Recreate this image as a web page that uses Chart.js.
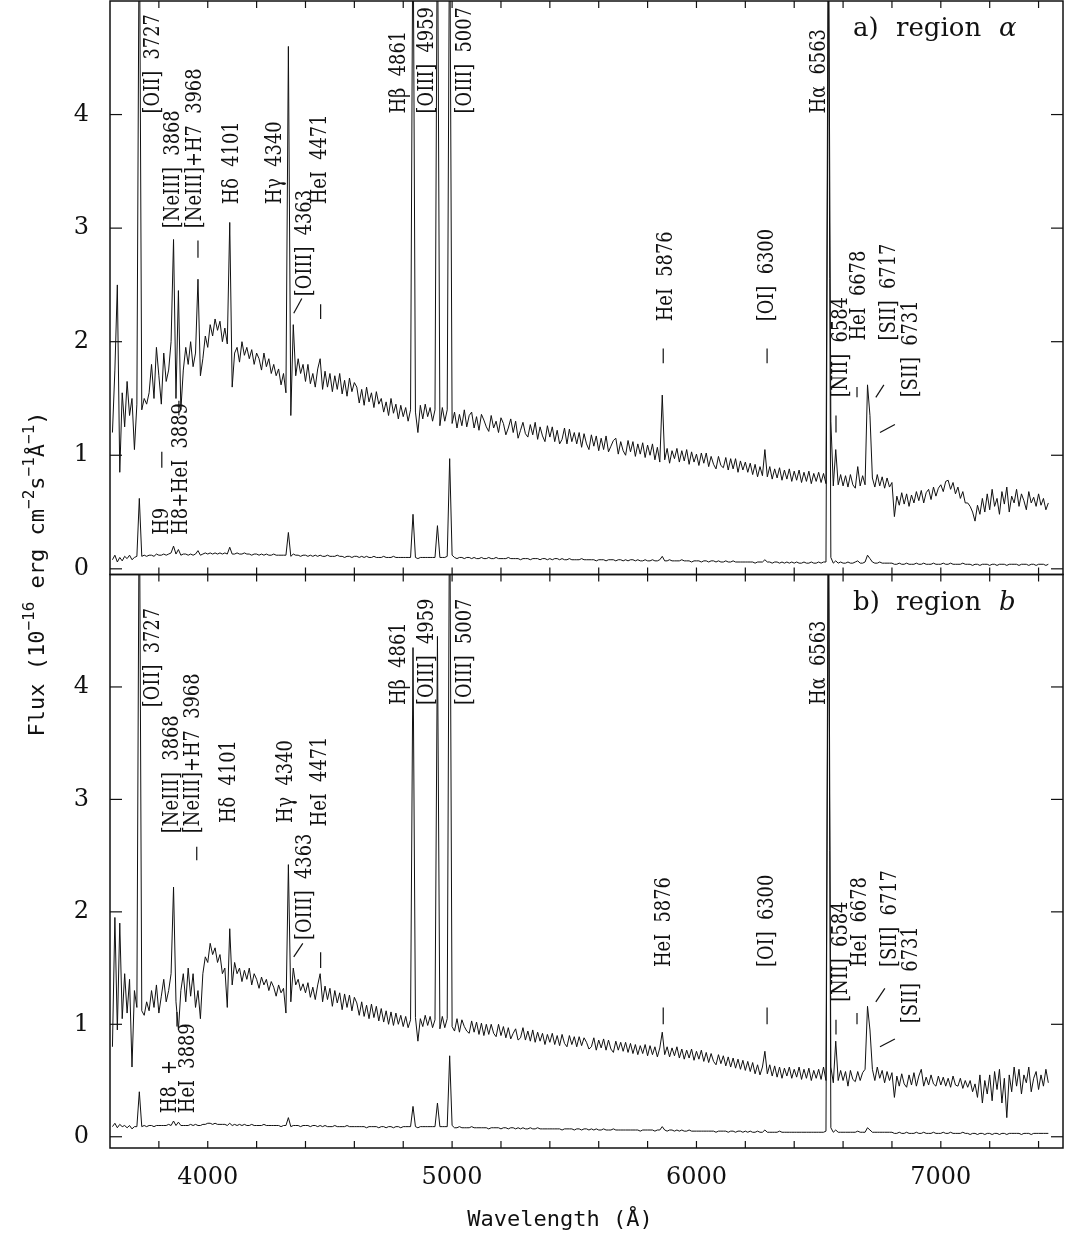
<!DOCTYPE html>
<html>
<head>
<meta charset="utf-8">
<script src="https://cdn.jsdelivr.net/npm/chart.js@4.4.1/dist/chart.umd.min.js"></script>
<style>
body{margin:0;background:#fff}
#wrap{width:1065px;height:1238px}
</style>
</head>
<body>
<div id="wrap"><canvas id="spec" width="1065" height="1238"></canvas></div>
<script>
// sampling grid of the spectra (Angstrom)
const lambdaStart = 3610
const lambdaStep = 10

// region a, bright aperture
const fluxA = [
1.2,1.75,2.5,0.85,1.55,1.25,1.65,1.35,1.5,1.05,
1.45,6.0,1.4,1.5,1.45,1.55,1.8,1.5,1.95,1.7,
1.45,1.9,1.65,1.75,2.0,2.9,1.5,2.45,1.4,1.75,
1.95,1.8,2.0,1.78,1.9,2.55,1.7,1.85,2.05,1.95,
2.15,2.05,2.2,2.1,2.18,2.0,2.12,1.98,3.05,1.6,
1.9,1.95,1.82,2.0,1.88,1.95,1.85,1.93,1.8,1.9,
1.85,1.75,1.9,1.78,1.85,1.72,1.8,1.7,1.76,1.62,
1.72,1.55,4.6,1.35,2.15,1.7,1.85,1.72,1.8,1.65,
1.8,1.63,1.72,1.6,1.76,1.85,1.58,1.74,1.6,1.72,
1.56,1.7,1.58,1.72,1.54,1.66,1.52,1.68,1.56,1.64,
1.6,1.46,1.58,1.44,1.6,1.47,1.55,1.42,1.56,1.45,
1.5,1.38,1.47,1.35,1.5,1.37,1.45,1.32,1.44,1.34,
1.42,1.3,1.4,6.0,1.38,1.2,1.44,1.32,1.45,1.34,
1.42,1.3,1.4,6.0,1.26,1.42,1.3,1.4,6.0,1.28,
1.38,1.24,1.36,1.26,1.4,1.25,1.35,1.38,1.24,1.34,
1.22,1.36,1.31,1.25,1.21,1.35,1.24,1.3,1.2,1.33,
1.28,1.18,1.24,1.32,1.2,1.3,1.15,1.22,1.29,1.19,
1.16,1.27,1.18,1.29,1.14,1.25,1.17,1.12,1.26,1.16,
1.25,1.12,1.22,1.1,1.14,1.24,1.1,1.23,1.12,1.2,
1.1,1.2,1.07,1.19,1.1,1.05,1.18,1.08,1.17,1.04,
1.15,1.05,1.17,1.03,1.08,1.13,1.15,1.01,1.12,1.04,
1.0,1.13,1.03,1.12,0.99,1.1,1.01,1.11,0.98,1.09,
1.0,1.1,0.96,1.07,0.94,1.53,0.96,1.06,0.93,1.04,
0.97,1.06,0.94,1.04,0.95,1.05,0.92,1.03,0.94,1.01,
0.91,1.02,0.93,1.02,0.9,0.99,0.92,0.88,0.99,0.91,
0.89,0.98,0.87,0.97,0.88,0.97,0.85,0.95,0.87,0.94,
0.85,0.93,0.83,0.92,0.81,0.9,0.82,1.05,0.81,0.9,
0.79,0.88,0.8,0.89,0.78,0.87,0.79,0.88,0.77,0.86,
0.78,0.87,0.76,0.85,0.77,0.86,0.75,0.84,0.77,0.85,
0.76,0.84,0.75,6.0,1.3,0.73,1.05,0.74,0.83,0.73,
0.82,0.72,0.83,0.74,0.71,0.9,0.73,0.82,0.74,1.62,
1.35,0.8,0.72,0.83,0.73,0.81,0.71,0.8,0.72,0.76,
0.46,0.64,0.56,0.67,0.57,0.66,0.55,0.65,0.58,0.68,
0.6,0.69,0.58,0.67,0.7,0.61,0.72,0.64,0.71,0.74,
0.68,0.77,0.78,0.7,0.76,0.66,0.72,0.62,0.68,0.58,
0.58,0.55,0.5,0.42,0.56,0.48,0.62,0.5,0.66,0.52,
0.7,0.55,0.62,0.48,0.68,0.57,0.72,0.5,0.64,0.58,
0.7,0.55,0.66,0.6,0.52,0.68,0.58,0.63,0.55,0.66,
0.56,0.62,0.52,0.58
]

// region a, scaled-down spectrum
const fluxA2 = [
0.08,0.12,0.06,0.10,0.07,0.11,0.09,0.12,0.08,0.10,
0.11,0.62,0.11,0.12,0.11,0.12,0.12,0.11,0.13,0.12,
0.12,0.13,0.12,0.13,0.14,0.20,0.13,0.17,0.12,0.13,
0.13,0.12,0.13,0.12,0.13,0.16,0.12,0.13,0.14,0.13,
0.14,0.13,0.14,0.13,0.14,0.13,0.14,0.13,0.19,0.13,
0.13,0.14,0.13,0.13,0.14,0.13,0.13,0.12,0.13,0.13,
0.12,0.13,0.12,0.13,0.12,0.12,0.13,0.12,0.12,0.12,
0.12,0.12,0.32,0.11,0.13,0.12,0.12,0.11,0.12,0.12,
0.11,0.12,0.11,0.12,0.11,0.12,0.11,0.11,0.12,0.11,
0.11,0.11,0.12,0.11,0.11,0.10,0.11,0.11,0.10,0.11,
0.11,0.10,0.11,0.10,0.11,0.10,0.10,0.11,0.10,0.10,
0.10,0.11,0.10,0.10,0.10,0.11,0.10,0.10,0.10,0.10,
0.10,0.10,0.10,0.48,0.10,0.09,0.10,0.10,0.10,0.10,
0.10,0.10,0.10,0.38,0.10,0.10,0.10,0.11,0.97,0.12,
0.10,0.09,0.10,0.10,0.09,0.10,0.10,0.09,0.10,0.09,
0.09,0.10,0.09,0.09,0.10,0.09,0.09,0.10,0.09,0.09,
0.09,0.09,0.10,0.09,0.09,0.09,0.09,0.08,0.09,0.09,
0.09,0.08,0.09,0.09,0.09,0.08,0.09,0.09,0.08,0.09,
0.08,0.09,0.09,0.08,0.09,0.08,0.08,0.09,0.08,0.08,
0.08,0.08,0.09,0.08,0.08,0.08,0.08,0.08,0.07,0.08,
0.08,0.08,0.07,0.08,0.08,0.08,0.07,0.08,0.08,0.07,
0.08,0.07,0.08,0.08,0.07,0.08,0.07,0.07,0.08,0.07,
0.07,0.08,0.07,0.07,0.08,0.11,0.07,0.07,0.08,0.07,
0.07,0.07,0.07,0.08,0.07,0.07,0.07,0.06,0.07,0.07,
0.07,0.06,0.07,0.07,0.06,0.07,0.07,0.06,0.07,0.06,
0.06,0.07,0.06,0.06,0.07,0.06,0.06,0.06,0.06,0.06,
0.06,0.06,0.06,0.05,0.06,0.06,0.06,0.08,0.06,0.06,
0.05,0.06,0.06,0.05,0.06,0.05,0.06,0.05,0.06,0.05,
0.06,0.05,0.05,0.06,0.05,0.05,0.06,0.05,0.05,0.06,
0.05,0.06,0.06,5.50,0.10,0.05,0.07,0.05,0.06,0.05,
0.05,0.06,0.05,0.05,0.06,0.07,0.05,0.05,0.06,0.12,
0.09,0.06,0.05,0.05,0.06,0.05,0.05,0.05,0.05,0.05,
0.04,0.04,0.05,0.04,0.04,0.05,0.04,0.04,0.04,0.05,
0.04,0.04,0.05,0.04,0.04,0.04,0.05,0.04,0.04,0.04,
0.05,0.04,0.04,0.05,0.04,0.04,0.04,0.04,0.05,0.04,
0.04,0.04,0.03,0.04,0.04,0.03,0.04,0.04,0.04,0.03,
0.04,0.04,0.03,0.04,0.04,0.04,0.03,0.04,0.04,0.04,
0.04,0.03,0.04,0.04,0.04,0.03,0.04,0.04,0.03,0.04,
0.04,0.04,0.03,0.04
]

// region b, bright aperture
const fluxB = [
0.8,1.95,0.95,1.9,1.05,1.45,1.1,1.4,0.62,1.3,
1.15,6.0,1.12,1.08,1.2,1.12,1.3,1.15,1.35,1.1,
1.25,1.4,1.2,1.3,1.45,2.22,1.2,0.95,1.3,1.45,
1.2,1.5,1.25,1.45,1.15,1.3,1.05,1.45,1.6,1.55,
1.72,1.62,1.68,1.55,1.62,1.45,1.5,1.15,1.85,1.35,
1.55,1.45,1.5,1.38,1.48,1.4,1.5,1.35,1.45,1.4,
1.32,1.42,1.35,1.4,1.3,1.38,1.33,1.25,1.35,1.28,
1.32,1.1,2.42,1.2,1.5,1.35,1.4,1.3,1.36,1.28,
1.37,1.24,1.33,1.22,1.35,1.45,1.2,1.34,1.22,1.32,
1.16,1.3,1.19,1.28,1.13,1.27,1.15,1.26,1.12,1.24,
1.19,1.08,1.2,1.07,1.17,1.05,1.18,1.06,1.16,1.03,
1.14,1.02,1.12,1.0,1.11,0.99,1.1,1.0,1.08,0.98,
1.07,0.97,1.04,4.35,1.06,0.85,1.05,0.98,1.08,0.99,
1.07,0.97,1.04,4.45,0.96,1.07,0.97,1.05,6.0,0.98,
0.94,1.05,0.93,1.04,0.98,0.94,0.92,1.03,0.93,1.02,
0.91,1.01,0.9,1.0,0.91,1.0,0.92,0.89,1.0,0.9,
0.98,0.88,0.97,0.87,0.92,0.96,0.86,0.88,0.97,0.86,
0.94,0.85,0.95,0.84,0.93,0.85,0.92,0.82,0.91,0.84,
0.92,0.82,0.9,0.81,0.91,0.83,0.8,0.9,0.82,0.89,
0.8,0.89,0.81,0.88,0.84,0.78,0.8,0.88,0.77,0.86,
0.79,0.87,0.77,0.86,0.78,0.75,0.85,0.77,0.84,0.76,
0.84,0.75,0.83,0.74,0.82,0.73,0.81,0.74,0.82,0.72,
0.81,0.73,0.8,0.71,0.79,0.93,0.73,0.8,0.71,0.79,
0.72,0.8,0.7,0.78,0.69,0.77,0.7,0.78,0.68,0.76,
0.69,0.77,0.67,0.75,0.66,0.74,0.67,0.64,0.73,0.65,
0.72,0.63,0.71,0.62,0.7,0.61,0.69,0.6,0.68,0.59,
0.67,0.58,0.66,0.56,0.64,0.55,0.62,0.76,0.56,0.64,
0.54,0.63,0.53,0.62,0.52,0.61,0.54,0.62,0.52,0.6,
0.53,0.62,0.51,0.6,0.52,0.61,0.5,0.59,0.52,0.6,
0.51,0.62,0.5,6.0,0.62,0.48,0.85,0.5,0.59,0.5,
0.58,0.45,0.59,0.51,0.49,0.58,0.5,0.57,0.6,1.16,
0.95,0.6,0.5,0.62,0.52,0.59,0.48,0.58,0.5,0.57,
0.35,0.54,0.45,0.56,0.47,0.44,0.55,0.46,0.57,0.45,
0.54,0.6,0.45,0.53,0.46,0.55,0.47,0.45,0.54,0.46,
0.53,0.45,0.52,0.44,0.54,0.46,0.45,0.52,0.43,0.5,
0.44,0.5,0.4,0.47,0.35,0.55,0.3,0.5,0.38,0.55,
0.32,0.58,0.42,0.6,0.3,0.52,0.17,0.55,0.4,0.62,
0.45,0.6,0.38,0.55,0.48,0.62,0.4,0.52,0.58,0.42,
0.55,0.45,0.6,0.48
]

// region b, scaled-down spectrum
const fluxB2 = [
0.09,0.12,0.08,0.11,0.09,0.10,0.08,0.10,0.07,0.09,
0.09,0.40,0.09,0.10,0.09,0.10,0.10,0.09,0.10,0.10,
0.10,0.10,0.10,0.11,0.10,0.14,0.10,0.13,0.10,0.10,
0.10,0.10,0.11,0.10,0.11,0.10,0.10,0.11,0.11,0.12,
0.12,0.11,0.12,0.11,0.11,0.11,0.11,0.10,0.12,0.10,
0.11,0.10,0.11,0.10,0.11,0.10,0.10,0.11,0.10,0.10,
0.10,0.10,0.11,0.10,0.10,0.10,0.10,0.10,0.10,0.09,
0.10,0.10,0.17,0.09,0.10,0.10,0.10,0.09,0.10,0.10,
0.10,0.09,0.10,0.10,0.09,0.10,0.09,0.10,0.09,0.09,
0.09,0.10,0.09,0.09,0.09,0.09,0.10,0.09,0.09,0.09,
0.09,0.09,0.09,0.09,0.08,0.09,0.09,0.09,0.09,0.08,
0.09,0.09,0.08,0.09,0.09,0.08,0.09,0.09,0.08,0.09,
0.09,0.09,0.09,0.27,0.09,0.08,0.09,0.09,0.09,0.09,
0.09,0.09,0.09,0.30,0.09,0.09,0.09,0.09,0.72,0.10,
0.08,0.08,0.09,0.08,0.08,0.08,0.08,0.09,0.08,0.08,
0.08,0.08,0.08,0.08,0.07,0.08,0.08,0.08,0.08,0.07,
0.08,0.08,0.07,0.08,0.08,0.07,0.08,0.07,0.08,0.07,
0.07,0.08,0.07,0.07,0.08,0.07,0.07,0.07,0.07,0.07,
0.07,0.07,0.07,0.07,0.06,0.07,0.07,0.07,0.07,0.06,
0.07,0.07,0.06,0.07,0.07,0.06,0.07,0.06,0.07,0.06,
0.06,0.07,0.06,0.06,0.06,0.07,0.06,0.06,0.06,0.06,
0.06,0.06,0.06,0.06,0.06,0.06,0.05,0.06,0.06,0.06,
0.06,0.06,0.05,0.06,0.06,0.09,0.06,0.05,0.06,0.06,
0.05,0.06,0.05,0.06,0.05,0.05,0.06,0.05,0.05,0.05,
0.05,0.05,0.05,0.05,0.05,0.05,0.05,0.04,0.05,0.05,
0.05,0.05,0.04,0.05,0.05,0.04,0.05,0.05,0.04,0.05,
0.04,0.05,0.04,0.04,0.05,0.04,0.04,0.06,0.04,0.04,
0.04,0.04,0.04,0.05,0.04,0.04,0.04,0.04,0.04,0.04,
0.04,0.04,0.04,0.04,0.04,0.04,0.04,0.04,0.04,0.04,
0.04,0.04,0.05,5.50,0.08,0.04,0.06,0.04,0.04,0.04,
0.04,0.04,0.04,0.04,0.04,0.05,0.04,0.04,0.04,0.08,
0.06,0.04,0.04,0.04,0.04,0.04,0.04,0.04,0.04,0.04,
0.03,0.03,0.04,0.03,0.03,0.04,0.03,0.03,0.03,0.04,
0.03,0.03,0.04,0.03,0.03,0.03,0.04,0.03,0.03,0.03,
0.04,0.03,0.03,0.04,0.03,0.03,0.03,0.03,0.04,0.03,
0.03,0.02,0.03,0.03,0.02,0.03,0.03,0.02,0.03,0.03,
0.02,0.03,0.03,0.02,0.03,0.03,0.02,0.03,0.03,0.03,
0.03,0.03,0.02,0.03,0.03,0.03,0.02,0.03,0.03,0.03,
0.03,0.03,0.03,0.03
]

const wavelength = fluxA.map((f, i) => lambdaStart + i * lambdaStep)
const xTickValues = [4000, 5000, 6000, 7000]
const yTickValues = [0, 1, 2, 3, 4]

// line identifications: text, wavelength at label centre, flux where the text starts
const idsA = [
["[OII]  3727", 3776, 4.01],
["[NeIII]  3868", 3861, 3.0],
["[NeIII]+H7  3968", 3951, 3.0],
["Hδ  4101", 4099, 3.21],
["Hγ  4340", 4278, 3.21],
["[OIII]  4363", 4401, 2.40],
["HeI  4471", 4462, 3.21],
["Hβ  4861", 4785, 4.01],
["[OIII]  4959", 4900, 4.01],
["[OIII]  5007", 5055, 4.01],
["HeI  5876", 5876, 2.18],
["[OI]  6300", 6289, 2.18],
["Hα  6563", 6501, 4.01],
["[NII]  6584", 6591, 1.51],
["HeI  6678", 6665, 2.01],
["[SII]  6717", 6788, 2.01],
["[SII]  6731", 6878, 1.51],
["H9", 3812, 0.30],
["H8+HeI  3889", 3890, 0.30]
]
const idsB = [
["[OII]  3727", 3776, 3.82],
["[NeIII]  3868", 3853, 2.70],
["[NeIII]+H7  3968", 3941, 2.70],
["Hδ  4101", 4090, 2.79],
["Hγ  4340", 4323, 2.79],
["[OIII]  4363", 4401, 1.75],
["HeI  4471", 4462, 2.76],
["Hβ  4861", 4785, 3.84],
["[OIII]  4959", 4900, 3.84],
["[OIII]  5007", 5055, 3.84],
["HeI  5876", 5868, 1.51],
["[OI]  6300", 6289, 1.51],
["Hα  6563", 6501, 3.84],
["[NII]  6584", 6591, 1.20],
["HeI  6678", 6669, 1.51],
["[SII]  6717", 6792, 1.51],
["[SII]  6731", 6878, 1.01],
["H8  +", 3845, 0.21],
["HeI  3889", 3919, 0.21]
]
// small marker strokes: lambda1, flux1, lambda2, flux2
const marksA = [
[3812,1.03,3812,0.89],[3882,1.48,3882,1.35],[3960,2.89,3960,2.74],
[4352,2.25,4385,2.38],[4462,2.33,4462,2.20],[5864,1.94,5864,1.81],
[6289,1.94,6289,1.81],[6571,1.35,6571,1.20],[6657,1.60,6657,1.51],
[6734,1.51,6767,1.62],[6751,1.20,6812,1.27]
]
const marksB = [
[3955,2.58,3955,2.46],[4352,1.60,4389,1.72],[4462,1.64,4462,1.50],
[3874,1.11,3874,0.98],[5864,1.15,5864,1.0],[6289,1.15,6289,1.0],
[6571,1.04,6571,0.91],[6657,1.10,6657,1.0],[6734,1.20,6771,1.32],
[6751,0.80,6812,0.87]
]

function seg(ctx, x1, y1, x2, y2){
ctx.beginPath()
ctx.moveTo(x1, y1)
ctx.lineTo(x2, y2)
ctx.stroke()
}

const specPlugin = {
id: "specPlugin",
beforeDatasetDraw(chart, args){
// keep each spectrum inside its own panel
const ys = chart.scales[args.meta.yAxisID]
const a = chart.chartArea
chart.ctx.save()
chart.ctx.beginPath()
chart.ctx.rect(a.left, ys.top, a.right - a.left, ys.bottom - ys.top)
chart.ctx.clip()
},
afterDatasetDraw(chart){
chart.ctx.restore()
},
afterDraw(chart){
const ctx = chart.ctx
const xs = chart.scales.x
const L = chart.chartArea.left, R = chart.chartArea.right
const panels = [chart.scales.ya, chart.scales.yb]
ctx.save()
ctx.strokeStyle = "#111"
ctx.fillStyle = "#111"
ctx.lineWidth = 1.5
panels.forEach(ys => ctx.strokeRect(L, ys.top, R - L, ys.bottom - ys.top))

ctx.lineWidth = 1.2
for(let w = 3800; w <= 7400; w += 200){
const px = xs.getPixelForValue(w)
panels.forEach(ys => {
seg(ctx, px, ys.top, px, ys.top + 7)
seg(ctx, px, ys.bottom, px, ys.bottom - 7)
})
}
panels.forEach(ys => {
yTickValues.forEach(v => {
const py = ys.getPixelForValue(v)
seg(ctx, L, py, L + 12, py)
seg(ctx, R, py, R - 12, py)
})
})

// line identifications
const drawIds = (list, ys) => {
ctx.font = '22px "DejaVu Serif"'
ctx.textAlign = "left"
ctx.textBaseline = "middle"
list.forEach(t => {
ctx.save()
ctx.translate(xs.getPixelForValue(t[1]), ys.getPixelForValue(t[2]))
ctx.rotate(-Math.PI / 2)
ctx.scale(0.81, 1)
ctx.fillText(t[0], 0, 0)
ctx.restore()
})
}
const drawMarks = (list, ys) => {
ctx.lineWidth = 1.2
list.forEach(m => seg(ctx, xs.getPixelForValue(m[0]), ys.getPixelForValue(m[1]), xs.getPixelForValue(m[2]), ys.getPixelForValue(m[3])))
}
drawIds(idsA, panels[0])
drawIds(idsB, panels[1])
drawMarks(marksA, panels[0])
drawMarks(marksB, panels[1])

// panel titles
const title = (ys, letter, name) => {
const y = ys.top + 35
ctx.textAlign = "left"
ctx.textBaseline = "alphabetic"
ctx.font = '26px "DejaVu Serif"'
ctx.fillText(letter + ")", R - 210, y)
ctx.fillText("region", R - 167, y)
ctx.font = 'italic 26px "DejaVu Serif"'
ctx.fillText(name, R - 64, y)
}
title(panels[0], "a", "α")
title(panels[1], "b", "b")

// axis titles
ctx.font = '22px "DejaVu Sans Mono"'
ctx.textAlign = "center"
ctx.textBaseline = "alphabetic"
ctx.fillText("Wavelength (Å)", 560, 1226)

const parts = [["Flux (10",0],["−16",1],[" erg cm",0],["−2",1],["s",0],["−1",1],["Å",0],["−1",1],[")",0]]
const mainFont = '22px "DejaVu Sans Mono"', supFont = '16px "DejaVu Sans Mono"'
ctx.save()
ctx.translate(44, 574)
ctx.rotate(-Math.PI / 2)
ctx.textAlign = "left"
let total = 0
parts.forEach(p => { ctx.font = p[1] ? supFont : mainFont; total += ctx.measureText(p[0]).width })
let cx = -total / 2
parts.forEach(p => {
ctx.font = p[1] ? supFont : mainFont
ctx.fillText(p[0], cx, p[1] ? -10 : 0)
cx += ctx.measureText(p[0]).width
})
ctx.restore()
ctx.restore()
}
}

const toXY = arr => arr.map((f, i) => ({x: wavelength[i], y: f}))
const spectrum = (arr, axis) => ({
data: toXY(arr),
yAxisID: axis,
borderColor: "#111",
borderWidth: 1,
borderJoinStyle: "round",
pointRadius: 0,
tension: 0
})

const yAxis = (lo) => ({
type: "linear",
position: "left",
stack: "flux",
stackWeight: 1,
min: lo,
max: 5,
afterBuildTicks: s => { s.ticks = yTickValues.map(v => ({value: v})) },
afterFit: s => { s.width = 50; s.paddingTop = 0; s.paddingBottom = 0 },
grid: {display: false},
border: {display: false},
ticks: {font: {family: "DejaVu Serif", size: 24}, color: "#111", padding: 13, callback: v => String(v)}
})

new Chart(document.getElementById("spec"), {
type: "line",
data: {
datasets: [
spectrum(fluxA, "ya"),
spectrum(fluxA2, "ya"),
spectrum(fluxB, "yb"),
spectrum(fluxB2, "yb")
]
},
options: {
responsive: false,
animation: false,
events: [],
layout: {padding: {left: 60, right: 2, top: 1, bottom: 0}},
plugins: {legend: {display: false}, tooltip: {enabled: false}},
scales: {
x: {
type: "linear",
position: "bottom",
min: 3600,
max: 7500,
afterBuildTicks: s => { s.ticks = xTickValues.map(v => ({value: v})) },
afterFit: s => { s.height = 90; s.paddingLeft = 0; s.paddingRight = 0 },
grid: {display: false},
border: {display: false},
ticks: {font: {family: "DejaVu Serif", size: 24}, color: "#111", padding: 7, maxRotation: 0, callback: v => String(v)}
},
yb: yAxis(-0.1),
ya: yAxis(-0.05)
}
},
plugins: [specPlugin]
})
</script>
</body>
</html>
